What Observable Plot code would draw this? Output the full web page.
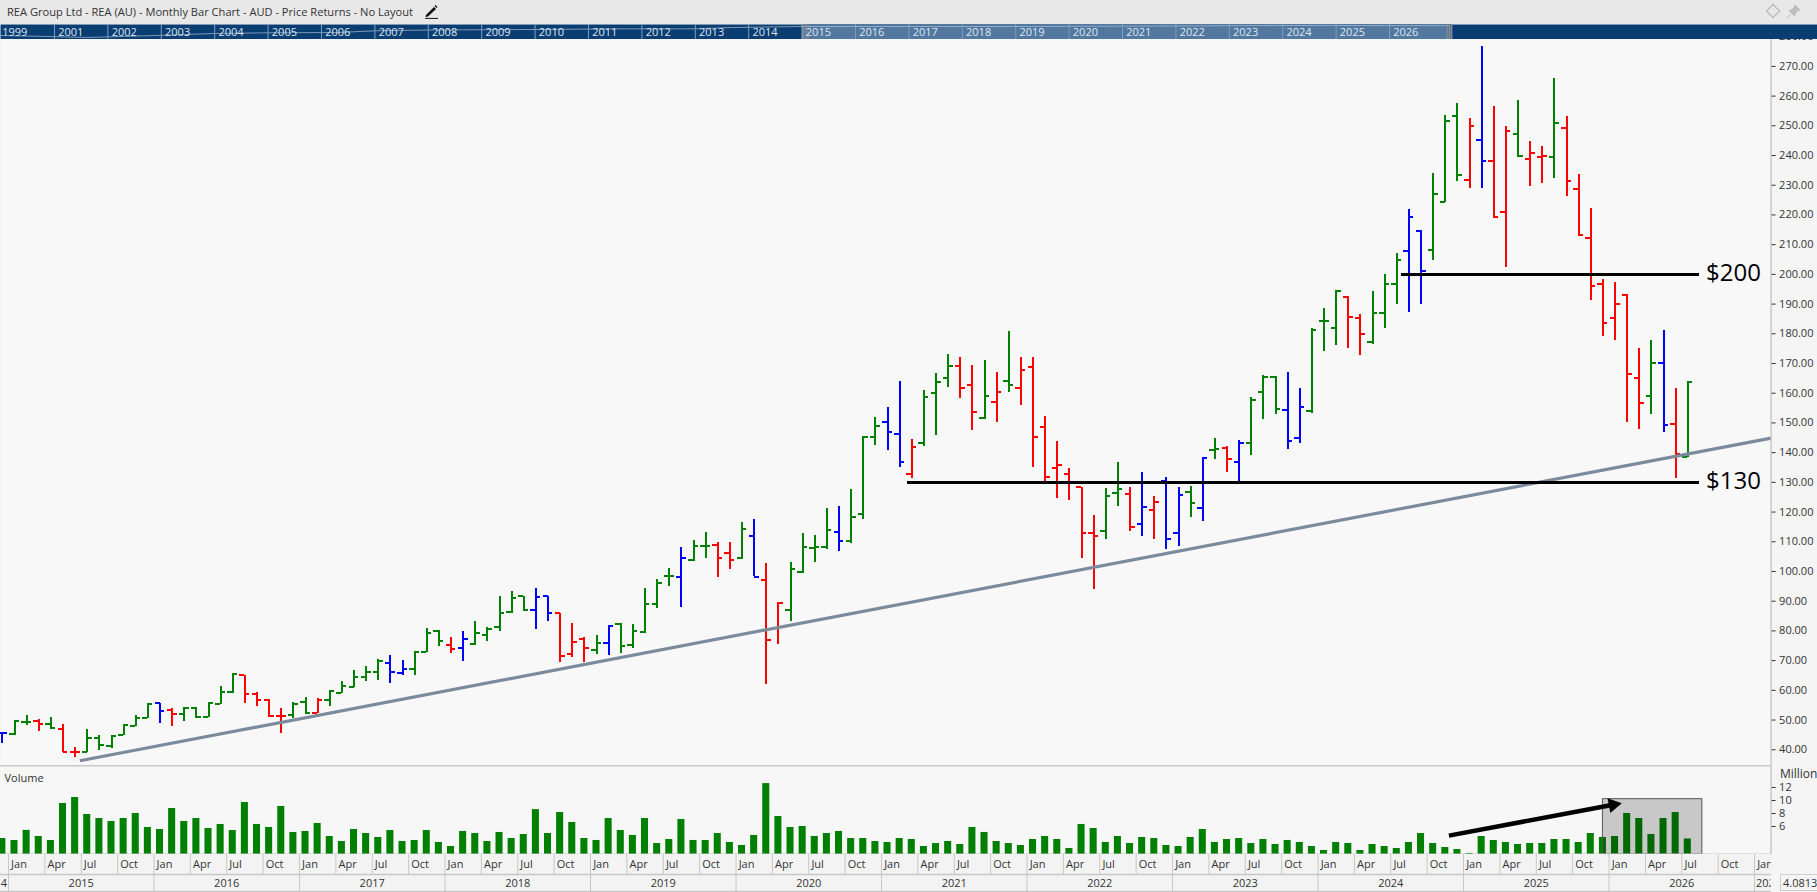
<!DOCTYPE html>
<html>
<head>
<meta charset="utf-8">
<script src="https://cdn.jsdelivr.net/npm/d3@7"></script>
<script src="https://cdn.jsdelivr.net/npm/@observablehq/plot@0.6"></script>
<style>
html,body{margin:0;padding:0;background:#f6f6f6;}
#stage{position:relative;width:1817px;height:892px;overflow:hidden;font-family:"Open Sans",sans-serif;background:#f5f5f5;}
#stage>svg{position:absolute;left:0;}
#header{position:absolute;left:0;top:0;width:1817px;height:24px;background:#e8e8e8;color:#333;font-size:11.1px;line-height:24px;z-index:5;}
#header span{position:absolute;left:7px;white-space:nowrap;}
#header svg{position:absolute;}
#valbox{position:absolute;left:1780px;top:874px;width:37px;height:15px;border:1px solid #cfcfcf;border-right:none;box-sizing:content-box;font-size:11px;line-height:15px;color:#333;overflow:hidden;white-space:nowrap;padding-left:2px;background:#f5f5f5;z-index:4;}
</style>
</head>
<body>
<div id="stage">
  <div id="header"><span id="title"></span>
    <svg style="left:424px;top:4px" width="15" height="15" viewBox="0 0 15 15"><path d="M2 11 L10 3 L12 5 L4 12.5 L1.5 13 Z" fill="#111"/><path d="M11 1.5 l2 2" stroke="#111" stroke-width="1.5"/><path d="M1 14.4 H14" stroke="#111" stroke-width="1"/></svg>
    <svg style="left:1765px;top:3px" width="16" height="16" viewBox="0 0 16 16"><path d="M8 1.5 L14.5 8 L8 14.5 L1.5 8 Z" fill="none" stroke="#bdbdbd" stroke-width="1.4"/></svg>
    <svg style="left:1786px;top:4px" width="15" height="15" viewBox="0 0 15 15"><path d="M9 1 L14 6 L12 6.5 L9 10 L8.5 12 L3 6.5 L5 6 L8.5 3 Z M5 10 L1 14" fill="#bdbdbd" stroke="#bdbdbd"/></svg>
  </div>
  <div id="valbox"></div>
</div>
<script>
const titleText = "REA Group Ltd - REA (AU) - Monthly Bar Chart - AUD - Price Returns - No Layout";

// month index: 0 = Jan 2015; first bar is Dec 2014, last Jul 2026
const firstMonth = -1;
const opens = [45.5,45.4,49.3,49.8,48.5,47,39.1,39.3,44,41.1,44.9,47.9,50.7,55.7,53.5,51.9,54.1,50.9,55.5,59.6,65.1,58.6,56.8,51.5,51.7,56.2,52.3,56.9,59.2,61,64.4,66.3,69.1,65.9,67.2,72.8,79.9,75.4,74.1,75.6,78.7,81.2,86.2,91.7,86.9,91.6,86,72.2,77.2,73.5,75.9,82.4,75.1,79.5,89.2,98.4,98.1,104,108.6,108.9,106.2,104.7,112.1,97,80.9,86.9,99.7,107.9,108.4,113.2,110.4,119.3,145.2,150.2,146.2,132.7,143.4,160,165,169.1,162.6,151.8,157,164,161.7,168.8,148.6,134.8,132.7,128.4,112.9,113.6,126.4,126,115.9,120.6,130.6,112.9,126.9,121.3,140.8,141.5,136.8,143.4,160.3,165.4,154.2,144.9,153.9,184.3,181.9,192.4,185.3,177.4,187,196.7,208,214.6,208.2,224.2,253.2,231.9,245.1,238.3,221,247.2,238.7,239.5,239.4,249.1,228.9,212.4,196.6,185.3,192.9,165,159,170.1,149.5,138.6];
const highs = [45.9,49.9,51.4,50.1,50.7,48.5,40.6,46.7,44.7,44.8,48.3,51.6,55.6,55.7,53.9,54.3,54.3,56,61.2,65.4,65.1,59.3,57,53.8,55.9,57.7,57.1,60,62.9,66.6,67.9,70.3,71.6,69.9,73.1,80.9,80.3,77.9,79.7,83,81,91.6,93.4,91.7,94.2,91.7,86,82.4,77.9,78.4,81.7,82.6,82,94.2,97.2,100.9,108,110.3,113,109.7,109.7,116.4,117.4,102.6,89.7,102.9,112.7,112,121.1,121.8,127.5,145.5,151.7,155.1,163.8,144.3,160.9,166.5,172.9,171.9,169.2,170.9,166.9,180.7,171.9,171.9,152,143.6,134.5,128.4,118.7,127.8,136.6,128.2,133.2,125.3,131.5,128.2,128.5,138.5,144.6,142,144,158.7,166.1,165.7,166.9,161.5,181.9,188.4,194.6,192.6,186.4,194.2,199.9,206.9,221.7,214.6,233.9,253.4,257.4,252.4,276.6,256.4,249.9,258.4,244.6,242.9,265.8,253,233.5,222.1,198.2,197.2,193.1,175,177.8,181.1,161.5,164.1];
const lows = [42,44.8,48.2,46.3,46.7,39,37.5,39.1,39.7,40.3,44.8,47.8,50.6,49,47.9,49.6,50.6,50.7,55.2,58.8,55.7,54.7,50.7,45.6,50.4,52.3,52.1,54.6,59,60.8,63,63.2,62.2,65.1,65.1,72.6,74.8,72.5,69.8,75.2,76.3,79.9,86,86.7,80.6,83,69.5,71.2,69.5,71.9,71.7,72.5,74.2,79,87.7,95.1,88,103.5,104.5,98.1,100.5,104.2,98.3,62.1,75.5,83.2,99.4,103.1,107.3,106.8,109.5,117.6,142.5,140.8,135.1,131.4,142.2,145.9,162,158.3,147.6,151.3,150.2,160.3,156,135.1,130.3,124.7,124,104.5,94,110.9,122,113.6,111.9,110.9,107.5,108.5,118.3,116.9,137.8,133.4,129.2,139.1,151,153,140.9,143.2,153.1,174,176,175.2,172.8,176.3,181.9,190,187.3,190,204.8,224.2,231.4,229,229,219.4,202.4,239.2,229.7,230.7,232.4,226.3,213.1,191.2,179.2,177.8,150.2,147.9,153,146.9,131.4,138.5];
const closes = [45.6,49.6,49.3,48.5,47.2,39.1,39.1,44,41.5,44.6,48.2,50.7,55.5,53,51.9,54.1,50.9,55.9,59.6,65.4,58.6,56.8,51.2,51.5,55.5,52.5,56.9,59.8,61.6,64.4,66.3,69.9,66.3,67.2,72.8,79.2,76.6,73.9,77.2,79.2,80.8,86,91,86.9,91.4,86,71.7,76.2,74.2,75.9,81.6,74.8,79.9,89,96.1,98.4,104.7,108.5,108.6,104.5,103.8,114.3,98.3,77.1,89.4,100.9,108.1,108.4,114.1,110.2,118.2,145.4,148.8,146.8,137,141.8,158.7,163.7,169.1,161.6,153.6,158.9,160.3,162.7,167.8,145.2,131.7,135.8,130,112.9,111.9,125.3,127.7,114.9,121.6,123.3,110.8,125.7,123,138.1,141.2,137.8,143.2,157.8,165.4,154.6,143.8,155.3,181.4,184.3,194.3,185.6,179.9,187,196.7,204.8,219.2,201.1,227,251.5,233.3,249.8,238.3,219.4,248.4,239.7,240.8,239.7,251.1,231.3,213.1,196,183.6,189.9,166.3,156.6,170.1,149.3,139.5,163.9];
const barColors = "b g g r g r r g g g g g g b r g g g g g r r r r g g r g g g g g b b g g g r b g g g g g b b r r r g b g g g g g b g g r r g b r r g g g g b g g g b b r g g g r r g r g r r r r r r r g g r b r b b g b g r b g g g b b g g g r r g g g b b g g g r b r r g r r g r r r r r r r g b r g".split(" ");
const volumes = [4.15,3.85,5.4,4.46,3.85,9.54,10.46,7.85,7.23,6.77,7.23,8,5.85,5.54,8.77,6.77,7.23,5.69,6.31,5.38,9.69,6.31,5.85,9.08,5.08,5.23,6.46,4.46,3.69,5.54,4.92,4.31,5.38,3.69,3.85,5.38,3.54,2.92,5.23,4.92,3.69,5.08,4.15,4.77,8.6,4.92,8.15,6.62,4.15,3.85,7.23,5.38,4.62,7.23,3.38,4,7.08,3.85,3.85,4.92,3.54,3.08,4.62,12.6,7.54,5.85,6,4.46,4.92,5.23,4.15,4.15,3.69,3.54,4.15,4,2.92,3.38,3.69,3.23,5.85,5.08,3.69,3.38,3.08,4,4.46,4,2.62,6.31,5.69,3.54,4.46,3.38,4.31,4.15,3.08,2.92,4.31,5.54,3.54,4,4.15,3.38,4,3.23,3.85,3.54,2.92,2.31,3.54,3.38,2.31,3.23,2.92,2.62,3.54,4.92,3.38,2.77,2.46,1.85,4.46,3.85,3.54,3.23,3.38,3.38,4,4,3.54,4.92,4.31,4.46,8,7.23,4.77,7.23,8.15,4.0813];

const priceTicks = [40,50,60,70,80,90,100,110,120,130,140,150,160,170,180,190,200,210,220,230,240,250,260,270,280];
const volumeTicks = [6,8,10,12];
const quarterNames = ["Jan","Apr","Jul","Oct"];
const axisYears = [2015,2016,2017,2018,2019,2020,2021,2022,2023,2024,2025,2026];
const navYears = [1999,2001,2002,2003,2004,2005,2006,2007,2008,2009,2010,2011,2012,2013,2014,2015,2016,2017,2018,2019,2020,2021,2022,2023,2024,2025,2026];
const navLineSlots = [0,0.9,1.6,2.9,4,5,6.3,7,8,10,11.7,13,13.7,15,19,22,24,27.1];
const navLineLevels = [11,12,13,11,9,8.3,8,6.3,5.5,5,4.3,4.3,3,2,2,1.5,1,1.2];

// annotations, in data units
const level200 = {price:200, from:114.4, to:139.0, label:"$200"};
const level130 = {price:130, from:73.65, to:139.0, label:"$130"};
const trend = {m1:5.39, p1:36.3, m2:144.87, p2:144.9};
const volumeBox = {m1:131.0, m2:139.2, v:10.2};
const volumeArrow = {m1:118.3, v1:4.6, m2:131.85, v2:9.34};

const months = opens.map((_, i) => firstMonth + i);
const bars = months.map((m, i) => ({m, open:opens[i], high:highs[i], low:lows[i], close:closes[i], color:barColors[i], volume:volumes[i]}));

document.getElementById("title").textContent = titleText;
document.getElementById("valbox").textContent = volumes[volumes.length-1].toFixed(4);

const stage = document.getElementById("stage");
const W = 1817, plotRight = 46.4;
const xDomain = [-1.155, 144.87];
const font = '"Open Sans", sans-serif';
const axisColor = "#c8c8c8";
const xScale = {type:"linear", domain:xDomain, axis:null};
const colorScale = {domain:["g","r","b"], range:["#008000","#ff0000","#0000ff"]};
function place(el, top, z){ el.style.top = top+"px"; el.style.zIndex = z; el.style.background="transparent"; stage.appendChild(el); }

// --- price panel
const tick = 0.41;
const crisp = "crispEdges";
const price = Plot.plot({
  width:W, height:745, marginTop:19, marginBottom:0, marginLeft:0, marginRight:plotRight,
  style:{fontFamily:font, fontSize:"11px", color:"#333", background:"transparent"},
  x:xScale,
  y:{type:"linear", domain:[34.7,279.05], axis:null},
  color:colorScale,
  marks:[
    Plot.frame({fill:"#f8f8f8", stroke:null}),
    Plot.ruleX(bars,{x:"m", y1:"low", y2:"high", stroke:"color", strokeWidth:2, shapeRendering:crisp}),
    Plot.ruleY(bars,{y:"open", x1:d=>d.m-tick, x2:"m", stroke:"color", strokeWidth:2, shapeRendering:crisp}),
    Plot.ruleY(bars,{y:"close", x1:"m", x2:d=>d.m+tick, stroke:"color", strokeWidth:2, shapeRendering:crisp}),
    Plot.link([trend],{x1:"m1", y1:"p1", x2:"m2", y2:"p2", stroke:"#7b8a9c", strokeWidth:3.2}),
    Plot.ruleY([level200,level130],{y:"price", x1:"from", x2:"to", stroke:"#000", strokeWidth:3, shapeRendering:crisp}),
    Plot.text([level200,level130],{x:d=>d.to+0.5, y:"price", text:"label", textAnchor:"start", fontSize:24, fill:"#000", dy:-1}),
    Plot.ruleX([xDomain[1]],{stroke:axisColor, strokeWidth:1.5}),
    Plot.axisY({anchor:"right", ticks:priceTicks, tickFormat:d=>d.toFixed(2), tickSize:4, tickPadding:4, label:null, stroke:"#333", fill:"#333"})
  ]
});
place(price, 20, 1);

// --- volume panel
const volume = Plot.plot({
  width:W, height:89, marginTop:0, marginBottom:0, marginLeft:0, marginRight:plotRight,
  style:{fontFamily:font, fontSize:"11px", color:"#333", background:"transparent"},
  x:xScale,
  y:{type:"linear", domain:[1.692,15.38], axis:null},
  marks:[
    Plot.frame({fill:"#f7f7f7", stroke:null}),
    Plot.rectY(bars,{x1:d=>d.m-0.29, x2:d=>d.m+0.29, y:"volume", fill:"#008000", clip:true}),
    Plot.rect([volumeBox],{x1:"m1", x2:"m2", y1:1.692, y2:"v", fill:"#000", fillOpacity:0.19, stroke:"#555", strokeWidth:1}),
    Plot.link([volumeArrow],{x1:"m1", y1:"v1", x2:"m2", y2:"v2", stroke:"#000", strokeWidth:4.5}),
    Plot.dot([volumeArrow],{x:"m2", y:"v2", symbol:"triangle", r:5.6, rotate:79.4, fill:"#000", stroke:null}),
    Plot.ruleX([xDomain[1]],{stroke:axisColor, strokeWidth:1.5}),
    Plot.ruleY([15.38],{stroke:axisColor, strokeWidth:2}),
    Plot.ruleY([1.692],{stroke:axisColor, strokeWidth:2}),
    Plot.text(["Volume"],{x:-0.825, y:13.4, text:d=>d, textAnchor:"start", fill:"#333", fontSize:11}),
    Plot.text(["Million"],{x:145.6, y:14.1, text:d=>d, textAnchor:"start", fill:"#333", fontSize:12}),
    Plot.axisY({anchor:"right", ticks:volumeTicks, tickFormat:d=>String(d), tickSize:4, tickPadding:4, label:null, stroke:"#333", fill:"#333"})
  ]
});
place(volume, 765, 2);

// --- month and year rows
const quarters = d3.range(-1, 49).map(q => ({m:q*3, name:quarterNames[((q%4)+4)%4]}));
const yearRows = axisYears.map(y => ({y, m:(y-2015)*12}));
const monthRowEnd = 20, yearRowEnd = 37;
const timeAxis = Plot.plot({
  width:W, height:38, marginTop:0, marginBottom:0, marginLeft:0, marginRight:plotRight,
  style:{fontFamily:font, fontSize:"11px", color:"#333", background:"transparent"},
  x:xScale,
  y:{type:"linear", domain:[38,0], axis:null},
  marks:[
    Plot.frame({fill:"#f3f3f3", stroke:null}),
    Plot.ruleX(quarters,{x:d=>d.m-0.495, y1:0, y2:monthRowEnd, stroke:axisColor, strokeWidth:1}),
    Plot.ruleX(yearRows.concat({y:2027,m:144}),{x:d=>d.m-0.495, y1:monthRowEnd, y2:yearRowEnd, stroke:axisColor, strokeWidth:1}),
    Plot.ruleY([monthRowEnd],{stroke:axisColor, strokeWidth:1.5}),
    Plot.ruleY([yearRowEnd],{stroke:axisColor, strokeWidth:1.5}),
    Plot.text(quarters.filter(d=>d.m>=0),{x:d=>d.m-0.28, y:monthRowEnd/2, text:"name", textAnchor:"start", fill:"#333", clip:true}),
    Plot.text(yearRows,{x:d=>d.m+5.5, y:(monthRowEnd+yearRowEnd)/2, text:d=>String(d.y), fill:"#333"}),
    Plot.text([2014],{x:-0.62, y:(monthRowEnd+yearRowEnd)/2, text:d=>String(d), textAnchor:"end", fill:"#333", clip:true}),
    Plot.text([2027],{x:143.62, y:(monthRowEnd+yearRowEnd)/2, text:d=>String(d), textAnchor:"start", fill:"#333", clip:true})
  ]
});
place(timeAxis, 854, 2);

// --- navigator strip
const navSlots = navYears.map((y,i)=>({y, i}));
const selection = {a:15, b:27.19};
const nav = Plot.plot({
  width:W, height:15, margin:0,
  style:{fontFamily:font, fontSize:"11px", background:"transparent"},
  x:{type:"linear", domain:[-0.011,34.015], axis:null},
  y:{type:"linear", domain:[15,0], axis:null},
  marks:[
    Plot.frame({fill:"#0a3d72", stroke:null}),
    Plot.rect([selection],{x1:"a", x2:"b", y1:0, y2:15, fill:"#53789f"}),
    Plot.line(navLineSlots.map((s,i)=>({s, l:navLineLevels[i]})),{x:"s", y:"l", stroke:"#a9bfd6", strokeWidth:1, strokeOpacity:0.7}),
    Plot.ruleX(navSlots.slice(1),{x:"i", stroke:"#7f9dbd", strokeWidth:1}),
    Plot.ruleX([15.03,15.07,15.11,27.08,27.12,27.16],{stroke:"#8d8d8d", strokeWidth:1}),
    Plot.text(navSlots,{x:d=>d.i+(d.i?0.07:0.02), y:7.5, text:d=>String(d.y), textAnchor:"start", fill:"#dbe6f1"})
  ]
});
place(nav, 24, 3);
</script>
</body>
</html>
